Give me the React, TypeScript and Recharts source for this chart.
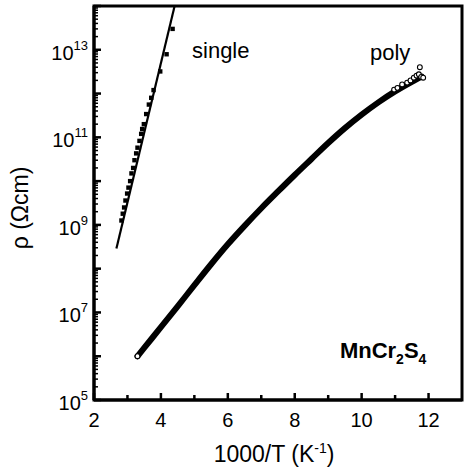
import React from 'react';
import { ComposedChart, Line, XAxis, YAxis, ReferenceDot } from 'recharts';

// x = 1000/T (K^-1), y = resistivity (Ohm cm)
const singleX = [2.82, 2.86, 2.9, 2.94, 2.99, 3.03, 3.08, 3.12, 3.17, 3.21, 3.26, 3.3, 3.36, 3.41, 3.44, 3.49, 3.56, 3.64, 3.71, 3.78, 3.98, 4.17, 4.35];
const singleRho = [1.26e9, 1.8e9, 2.5e9, 3.6e9, 5.2e9, 7.1e9, 1.0e10, 1.5e10, 2.0e10, 3.0e10, 4.3e10, 5.8e10, 8.3e10, 1.2e11, 1.55e11, 2.0e11, 3.4e11, 5.6e11, 8.0e11, 1.2e12, 3.2e12, 7.9e12, 3.0e13];

const fitX = [2.67, 4.41];
const fitRho = [2.9e8, 1e14];

const polyX = [3.3, 3.5, 4.0, 4.5, 5.0, 5.5, 6.0, 6.5, 7.0, 7.5, 8.0, 8.5, 9.0, 9.5, 10.0, 10.5, 11.0, 11.5, 11.8];
const polyRho = [1.0e6, 1.55e6, 4.6e6, 1.38e7, 4.2e7, 1.26e8, 3.6e8, 9.5e8, 2.4e9, 5.8e9, 1.38e10, 3.2e10, 7.4e10, 1.62e11, 3.3e11, 6.3e11, 1.12e12, 1.86e12, 2.45e12];

const polyOpenX = [3.3, 10.97, 11.07, 11.21, 11.36, 11.46, 11.56, 11.64, 11.71, 11.78, 11.84, 11.74];
const polyOpenRho = [1.0e6, 1.23e12, 1.35e12, 1.62e12, 1.78e12, 2.0e12, 2.3e12, 2.57e12, 2.75e12, 2.4e12, 2.3e12, 4.0e12];

const xDomain = [2, 13];
const yDomain = [1e5, 1e14];
const xTicks = [2, 3, 4, 5, 6, 7, 8, 9, 10, 11, 12];
const yDecades = [5, 6, 7, 8, 9, 10, 11, 12, 13];
const yTicks = [...yDecades.flatMap((d) => [1, 2, 3, 4, 5, 6, 7, 8, 9].map((m) => m * Math.pow(10, d))), 1e14];

const zip = (xs: number[], ys: number[]) => xs.map((x, i) => ({ x, y: ys[i] }));
const singleData = zip(singleX, singleRho);
const fitData = zip(fitX, fitRho);
const polyData = zip(polyX, polyRho);
const polyOpenData = zip(polyOpenX, polyOpenRho);

const FONT = '"Liberation Sans", Arial, Helvetica, sans-serif';
const W = 464;
const H = 476;
const MARGIN = { top: 6, right: 2, left: 0, bottom: 0 };
const Y_AXIS_W = 94;
const X_AXIS_H = 76;
// plot box, same numbers the chart uses for its layout
const P = { left: MARGIN.left + Y_AXIS_W, right: W - MARGIN.right, top: MARGIN.top, bottom: H - MARGIN.bottom - X_AXIS_H };
const px = (v: number) => P.left + ((v - xDomain[0]) / (xDomain[1] - xDomain[0])) * (P.right - P.left);
const py = (v: number) =>
  P.bottom - ((Math.log10(v) - Math.log10(yDomain[0])) / (Math.log10(yDomain[1]) - Math.log10(yDomain[0]))) * (P.bottom - P.top);
const isDecade = (v: number) => {
  const e = Math.round(Math.log10(v));
  return Math.abs(v - Math.pow(10, e)) / v < 1e-6;
};

const XTick = (props: any) => {
  const { x, y, payload } = props;
  const v = payload.value;
  if (v % 2 !== 0) return <g />;
  return (
    <text x={x} y={y + 27} textAnchor="middle" fontSize={20} fontFamily={FONT} fill="#000">
      {v}
    </text>
  );
};

const YTick = (props: any) => {
  const { x, y, payload } = props;
  const v = payload.value;
  const exp = Math.round(Math.log10(v));
  if (!(isDecade(v) && exp % 2 === 1 && exp <= 13)) return <g />;
  return (
    <text x={x - 6} y={y + 10} textAnchor="end" fontSize={20} fontFamily={FONT} fill="#000">
      <tspan>10</tspan>
      <tspan dy={-10} fontSize={13}>{exp}</tspan>
    </text>
  );
};

const XTitle = (props: any) => {
  const vb = props.viewBox;
  return (
    <text x={vb.x + vb.width / 2 - 4} y={462} textAnchor="middle" fontSize={23} fontFamily={FONT} fill="#000">
      1000/T (K<tspan dy={-9} fontSize={14}>-1</tspan>
      <tspan dy={9}>)</tspan>
    </text>
  );
};

const YTitle = (props: any) => {
  const vb = props.viewBox;
  const cy = vb.y + vb.height / 2 + 5;
  return (
    <text x={22} y={cy} textAnchor="middle" dominantBaseline="middle" transform={`rotate(-90 22 ${cy})`} fontSize={23} fontFamily={FONT} fill="#000">
      ρ (Ωcm)
    </text>
  );
};

const note = (label: string) => (p: any) => (
  <text x={p.cx} y={p.cy} fontSize={22} fontFamily={FONT} fill="#000">{label}</text>
);
const formula = (p: any) => (
  <text x={p.cx} y={p.cy} fontSize={22} fontFamily={FONT} fontWeight="bold" fill="#000">
    MnCr<tspan dy={6} fontSize={14}>2</tspan>
    <tspan dy={-6}>S</tspan>
    <tspan dy={6} fontSize={14}>4</tspan>
  </text>
);

const square = (p: any) => <rect key={`s${p.index}`} x={p.cx - 2.2} y={p.cy - 2.2} width={4.4} height={4.4} fill="#000" />;
const openCircle = (p: any) => (
  <circle key={`c${p.index}`} cx={p.cx} cy={p.cy} r={2.4} fill="#fff" stroke="#000" strokeWidth={1.1} />
);

// frame and inward tick marks, drawn over the chart
function Frame() {
  return (
    <svg width={W} height={H} style={{ position: 'absolute', left: 0, top: 0, pointerEvents: 'none' }}>
      <rect x={P.left} y={P.top} width={P.right - P.left} height={P.bottom - P.top} fill="none" stroke="#000" strokeWidth={3} />
      {xTicks.map((v) => (
        <line key={`x${v}`} x1={px(v)} x2={px(v)} y1={P.bottom} y2={P.bottom - (v % 2 === 0 ? 7 : 5)} stroke="#000" strokeWidth={2.5} />
      ))}
      {yTicks.map((v) => (
        <line
          key={`y${v}`}
          x1={P.left}
          x2={P.left + (isDecade(v) ? 7 : 4)}
          y1={py(v)}
          y2={py(v)}
          stroke="#000"
          strokeWidth={isDecade(v) ? 2.5 : 1.5}
        />
      ))}
    </svg>
  );
}

export default function App() {
  return (
    <div style={{ position: 'absolute', left: 0, top: 0, width: W, height: H, background: '#fff' }}>
      <ComposedChart width={W} height={H} margin={MARGIN}>
        <XAxis
          dataKey="x"
          type="number"
          domain={xDomain}
          ticks={xTicks}
          allowDataOverflow
          height={X_AXIS_H}
          tickSize={0}
          tickMargin={0}
          tickLine={false}
          tick={<XTick />}
          axisLine={{ stroke: '#000', strokeWidth: 3 }}
          label={{ content: <XTitle /> }}
        />
        <YAxis
          dataKey="y"
          type="number"
          scale="log"
          domain={yDomain}
          ticks={yTicks}
          allowDataOverflow
          width={Y_AXIS_W}
          tickSize={0}
          tickMargin={0}
          tickLine={false}
          tick={<YTick />}
          interval={0}
          axisLine={{ stroke: '#000', strokeWidth: 3 }}
          label={{ content: <YTitle /> }}
        />
        <Line
          data={polyData}
          dataKey="y"
          type="monotone"
          stroke="#000"
          strokeWidth={6}
          strokeLinecap="round"
          dot={false}
          isAnimationActive={false}
        />
        <Line data={polyOpenData} dataKey="y" stroke="none" dot={openCircle} isAnimationActive={false} />
        <Line data={fitData} dataKey="y" type="linear" stroke="#000" strokeWidth={2.2} dot={false} isAnimationActive={false} />
        <Line data={singleData} dataKey="y" stroke="none" dot={square} isAnimationActive={false} />
        <ReferenceDot x={4.93} y={6.5e12} r={0} shape={note('single')} />
        <ReferenceDot x={10.25} y={5.9e12} r={0} shape={note('poly')} />
        <ReferenceDot x={9.35} y={9.1e5} r={0} shape={formula} />
      </ComposedChart>
      <Frame />
    </div>
  );
}
